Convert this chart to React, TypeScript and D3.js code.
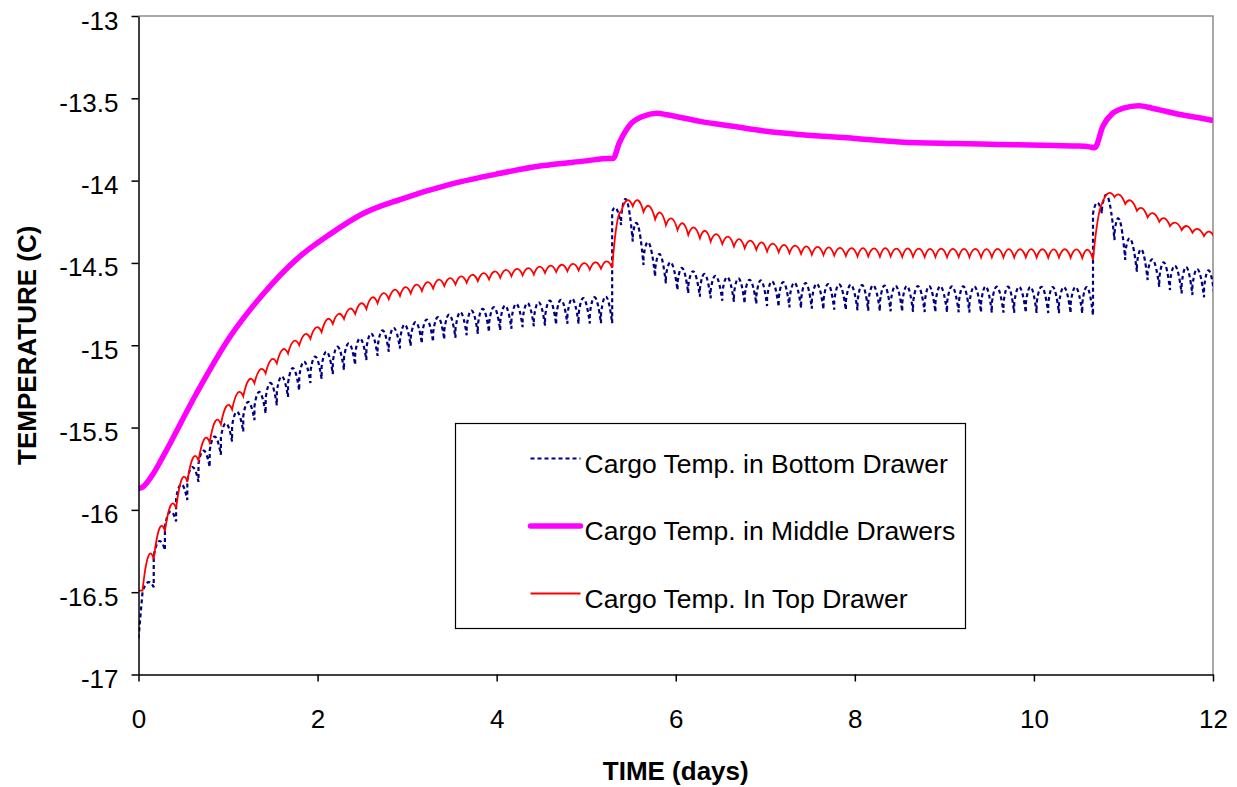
import React, { useEffect, useRef } from 'react';
import * as d3 from 'd3';

// refrigeration cycle boundaries (days)
const cycleEdges = [
  0.045, 0.17, 0.295, 0.42, 0.545, 0.67, 0.795, 0.92, 1.045, 1.17, 1.295, 1.42, 1.545, 1.67, 1.795,
  1.92, 2.045, 2.17, 2.295, 2.42, 2.545, 2.67, 2.795, 2.92, 3.04, 3.165, 3.29, 3.415, 3.54, 3.665,
  3.79, 3.915, 4.04, 4.165, 4.29, 4.415, 4.54, 4.665, 4.79, 4.915, 5.04, 5.165, 5.29,
  5.39,
  5.52, 5.64, 5.77, 5.89, 6.02, 6.14, 6.27, 6.39, 6.52, 6.65, 6.77, 6.9, 7.02, 7.15, 7.27, 7.4,
  7.52, 7.65, 7.77, 7.9, 8.03, 8.15, 8.28, 8.4, 8.53, 8.65, 8.78, 8.9, 9.03, 9.16, 9.28, 9.41,
  9.53, 9.66, 9.78, 9.91, 10.03, 10.16, 10.28, 10.41, 10.54, 10.66,
  10.76,
  10.9, 11.02, 11.15, 11.27, 11.4, 11.52, 11.65, 11.77, 11.9, 12.02,
];

// top drawer: value at each cycle boundary and arch top of each cycle
const topStart = -16.49;
const topCusp = [
  -16.49, -16.3, -16.13, -15.99, -15.83, -15.7, -15.59, -15.48, -15.39, -15.31, -15.23, -15.17,
  -15.11, -15.05, -15.0, -14.96, -14.92, -14.87, -14.84, -14.81, -14.78, -14.745, -14.72, -14.7,
  -14.685, -14.67, -14.655, -14.64, -14.63, -14.62, -14.61, -14.6, -14.59, -14.58, -14.575, -14.57,
  -14.56, -14.555, -14.55, -14.545, -14.54, -14.535, -14.53,
  -14.19,
  -14.155, -14.19, -14.235, -14.27, -14.3, -14.33, -14.35, -14.37, -14.385, -14.4, -14.41, -14.42,
  -14.43, -14.435, -14.44, -14.445, -14.45, -14.452, -14.455, -14.457,
  -14.46, -14.46, -14.462, -14.46, -14.463, -14.462, -14.464, -14.463, -14.465, -14.464, -14.465,
  -14.466, -14.465, -14.466, -14.467, -14.466, -14.467, -14.468, -14.467, -14.468, -14.47,
  -14.48,
  -14.14,
  -14.1, -14.142, -14.183, -14.223, -14.25, -14.276, -14.3, -14.316, -14.337, -14.35,
];
const topPeak = [
  -16.285, -16.115, -15.975, -15.815, -15.685, -15.572, -15.462, -15.37, -15.29, -15.21, -15.148,
  -15.087, -15.027, -14.975, -14.933, -14.892, -14.842, -14.81, -14.778, -14.746, -14.71, -14.684,
  -14.663, -14.647, -14.632, -14.617, -14.602, -14.592, -14.582, -14.572, -14.562, -14.552, -14.542,
  -14.536, -14.531, -14.522, -14.516, -14.511, -14.506, -14.501, -14.496, -14.49,
  -14.27,
  -14.12, -14.12, -14.155, -14.195, -14.23, -14.26, -14.285, -14.305, -14.325, -14.34, -14.355,
  -14.365, -14.375, -14.383, -14.39, -14.395, -14.4, -14.403, -14.406, -14.408,
  -14.41, -14.41, -14.412, -14.41, -14.413, -14.412, -14.413, -14.414, -14.413, -14.415, -14.414,
  -14.415, -14.416, -14.415, -14.416, -14.417, -14.416, -14.417, -14.418, -14.417, -14.418, -14.42,
  -14.25,
  -14.077, -14.087, -14.122, -14.168, -14.199, -14.229, -14.256, -14.276, -14.294, -14.31,
];

// bottom drawer: level after the jump, arch top, and low point before the next jump
const bottomStart = -16.78;
const bottomFoot = [
  -16.5, -16.28, -16.1, -15.93, -15.82, -15.72, -15.64, -15.56, -15.49, -15.43, -15.37, -15.32,
  -15.28, -15.23, -15.19, -15.16, -15.13, -15.1, -15.075, -15.05, -15.02,
  -15.01, -14.99, -14.97, -14.955, -14.94, -14.925, -14.91, -14.9, -14.885, -14.875, -14.865,
  -14.855, -14.845, -14.84, -14.835, -14.825, -14.82, -14.815, -14.81, -14.81, -14.81,
  -14.19,
  -14.22,
  -14.334, -14.465, -14.536, -14.579, -14.617, -14.637, -14.656, -14.666, -14.679, -14.686, -14.695,
  -14.699, -14.709, -14.713, -14.717, -14.72, -14.724, -14.727, -14.729, -14.731, -14.733, -14.735,
  -14.737,
  -14.738, -14.739, -14.74, -14.74, -14.741, -14.741, -14.742, -14.742, -14.743, -14.743, -14.744,
  -14.744, -14.745, -14.745, -14.746, -14.746, -14.747, -14.747,
  -14.2,
  -14.17,
  -14.317, -14.437, -14.506, -14.56, -14.592, -14.612, -14.628, -14.639, -14.651,
];
const bottomPeak = [
  -16.44, -16.19, -16.01, -15.845, -15.74, -15.64, -15.555, -15.475, -15.405, -15.345, -15.285,
  -15.23, -15.19, -15.14, -15.1, -15.07, -15.04, -15.01, -14.99, -14.96, -14.93,
  -14.91, -14.895, -14.875, -14.86, -14.845, -14.83, -14.815, -14.8, -14.79, -14.78, -14.77, -14.76,
  -14.75, -14.745, -14.74, -14.73, -14.725, -14.72, -14.715, -14.71, -14.705,
  -14.17,
  -14.12,
  -14.27, -14.38, -14.45, -14.5, -14.533, -14.553, -14.569, -14.58, -14.588, -14.596, -14.604,
  -14.608, -14.614, -14.618, -14.622, -14.624, -14.628, -14.63, -14.632, -14.634, -14.636, -14.638,
  -14.64,
  -14.641, -14.642, -14.642, -14.643, -14.643, -14.644, -14.644, -14.645, -14.645, -14.646, -14.646,
  -14.647, -14.647, -14.647, -14.648, -14.648, -14.648, -14.649,
  -14.134,
  -14.1,
  -14.239, -14.357, -14.422, -14.482, -14.499, -14.519, -14.527, -14.539, -14.547,
];
const bottomTrough = [
  -16.47, -16.245, -16.07, -15.94, -15.83, -15.74, -15.665, -15.585, -15.525, -15.455, -15.415,
  -15.365, -15.315, -15.275, -15.23, -15.205, -15.175, -15.15, -15.12, -15.09, -15.065,
  -15.04, -15.02, -15.005, -14.99, -14.98, -14.965, -14.955, -14.94, -14.93, -14.92, -14.91, -14.9,
  -14.89, -14.885, -14.88, -14.875, -14.87, -14.87, -14.868, -14.867, -14.867,
  -14.27,
  -14.37,
  -14.513, -14.584, -14.624, -14.665, -14.685, -14.705, -14.715, -14.73, -14.736, -14.746, -14.75,
  -14.762, -14.766, -14.77, -14.774, -14.778, -14.782, -14.784, -14.786, -14.788, -14.79, -14.792,
  -14.794,
  -14.796, -14.797, -14.798, -14.799, -14.8, -14.8, -14.801, -14.801, -14.802, -14.802, -14.803,
  -14.803, -14.804, -14.804, -14.805, -14.805, -14.806,
  -14.817,
  -14.2,
  -14.361,
  -14.482, -14.553, -14.604, -14.645, -14.665, -14.685, -14.695, -14.709, -14.715,
];

// middle drawers (smooth)
const middleTime = [
  0, 0.05, 0.165, 0.27, 0.65, 1.02, 1.39, 1.77, 2.14, 2.51, 2.92, 3.5, 4.0, 4.5, 5.0, 5.25, 5.3,
  5.37, 5.49, 5.63, 5.79, 5.9, 6.27, 6.64, 7.01, 7.38, 7.91, 8.5, 9.1, 9.6, 10.1, 10.5, 10.62, 10.68,
  10.77, 10.88, 11.0, 11.17, 11.32, 11.48, 11.65, 11.96, 12,
];
const middleTemp = [
  -15.87, -15.86, -15.78, -15.68, -15.29, -14.95, -14.69, -14.475, -14.325, -14.2, -14.115, -14.02,
  -13.96, -13.91, -13.88, -13.865, -13.865, -13.77, -13.66, -13.61, -13.59, -13.6, -13.64, -13.67,
  -13.7, -13.72, -13.74, -13.765, -13.775, -13.78, -13.785, -13.79, -13.795, -13.8, -13.67, -13.59,
  -13.56, -13.545, -13.56, -13.58, -13.6, -13.63, -13.635,
];

const xTicks = [0, 2, 4, 6, 8, 10, 12];
const yTicks = [-17, -16.5, -16, -15.5, -15, -14.5, -14, -13.5, -13];
const legendLabels = [
  'Cargo Temp. in Bottom Drawer',
  'Cargo Temp. in Middle Drawers',
  'Cargo Temp. In Top Drawer',
];

const FONT = '"Liberation Sans", Arial, Helvetica, sans-serif';
const NAVY = '#000080';
const MAGENTA = '#ff00ff';
const RED = '#ff0000';

export default function App() {
  const svgRef = useRef<SVGSVGElement>(null);

  useEffect(() => {
    const svg = d3.select(svgRef.current);
    svg.selectAll('*').remove();

    const x = d3.scaleLinear().domain([0, 12]).range([138.5, 1213]);
    const y = d3.scaleLinear().domain([-17, -13]).range([674.5, 16]);

    svg.append('defs').append('clipPath').attr('id', 'plot-clip')
      .append('rect')
      .attr('x', x(0)).attr('y', 0)
      .attr('width', x(12) - x(0)).attr('height', y(-17));

    // grey frame on top and right
    svg.append('path')
      .attr('d', `M${x(0)},${y(-13)}H${x(12)}V${y(-17)}`)
      .attr('fill', 'none')
      .attr('stroke', '#8c8c8c')
      .attr('stroke-width', 1.5);

    const plot = svg.append('g').attr('clip-path', 'url(#plot-clip)');

    // bottom drawer: arch per cycle, then a vertical jump
    const bottom = d3.path();
    bottom.moveTo(x(0), y(bottomStart));
    bottomPeak.forEach((pk, i) => {
      const t0 = cycleEdges[i];
      const t1 = cycleEdges[i + 1];
      const f = bottomFoot[i];
      const tr = bottomTrough[i];
      bottom.lineTo(x(t0), y(f));
      bottom.quadraticCurveTo(x(t0 + (t1 - t0) * 0.45), y(2 * pk - (f + tr) / 2), x(t1), y(tr));
    });
    plot.append('path')
      .attr('d', bottom.toString())
      .attr('fill', 'none')
      .attr('stroke', NAVY)
      .attr('stroke-width', 2.2)
      .attr('stroke-dasharray', '4 3');

    // middle drawers
    const middleLine = d3.line<number>()
      .x((_, i) => x(middleTime[i]))
      .y(d => y(d))
      .curve(d3.curveMonotoneX);
    plot.append('path')
      .attr('d', middleLine(middleTemp))
      .attr('fill', 'none')
      .attr('stroke', MAGENTA)
      .attr('stroke-width', 5.5)
      .attr('stroke-linejoin', 'round');

    // top drawer: scallops between cusps
    const top = d3.path();
    top.moveTo(x(0), y(topStart));
    top.lineTo(x(cycleEdges[0]), y(topCusp[0]));
    topPeak.forEach((pk, i) => {
      const t0 = cycleEdges[i];
      const t1 = cycleEdges[i + 1];
      const c0 = topCusp[i];
      const c1 = topCusp[i + 1];
      top.quadraticCurveTo(x((t0 + t1) / 2), y(2 * pk - (c0 + c1) / 2), x(t1), y(c1));
    });
    plot.append('path')
      .attr('d', top.toString())
      .attr('fill', 'none')
      .attr('stroke', RED)
      .attr('stroke-width', 1.8);

    // axes
    const yAxis = d3.axisLeft(y)
      .tickValues(yTicks)
      .tickSize(7)
      .tickSizeOuter(0)
      .tickPadding(13)
      .tickFormat(d => String(d));
    const yg = svg.append('g')
      .attr('transform', `translate(${x(0)},0)`)
      .call(yAxis);
    yg.attr('font-family', FONT).attr('font-size', 26);
    yg.selectAll('text').attr('dy', '0.5em').attr('fill', '#000');
    yg.selectAll('line, path').attr('stroke', '#000').attr('stroke-width', 1.5);

    const xAxis = d3.axisBottom(x)
      .tickValues(xTicks)
      .tickSize(7)
      .tickSizeOuter(0)
      .tickPadding(28)
      .tickFormat(d => String(d));
    const xg = svg.append('g')
      .attr('transform', `translate(0,${y(-17)})`)
      .call(xAxis);
    xg.attr('font-family', FONT).attr('font-size', 26);
    xg.selectAll('text').attr('fill', '#000');
    xg.selectAll('line, path').attr('stroke', '#000').attr('stroke-width', 1.5);

    // axis titles
    svg.append('text')
      .attr('x', (x(0) + x(12)) / 2)
      .attr('y', 780)
      .attr('text-anchor', 'middle')
      .attr('font-family', FONT)
      .attr('font-weight', 'bold')
      .attr('font-size', 26)
      .text('TIME (days)');

    svg.append('text')
      .attr('transform', `translate(36,${(y(-13) + y(-17)) / 2}) rotate(-90)`)
      .attr('text-anchor', 'middle')
      .attr('font-family', FONT)
      .attr('font-weight', 'bold')
      .attr('font-size', 26)
      .text('TEMPERATURE (C)');

    // legend
    const legend = svg.append('g').attr('transform', 'translate(455.5,423.5)');
    legend.append('rect')
      .attr('width', 510)
      .attr('height', 205)
      .attr('fill', '#fff')
      .attr('stroke', '#000')
      .attr('stroke-width', 1.2);

    const styles = [
      { color: NAVY, width: 2.2, dash: '4 3' },
      { color: MAGENTA, width: 5.5, dash: null },
      { color: RED, width: 1.8, dash: null },
    ];
    legendLabels.forEach((label, i) => {
      const row = legend.append('g').attr('transform', `translate(0,${35 + i * 67.5})`);
      row.append('line')
        .attr('x1', 75).attr('x2', 125)
        .attr('stroke', styles[i].color)
        .attr('stroke-width', styles[i].width)
        .attr('stroke-linecap', i === 1 ? 'round' : 'butt')
        .attr('stroke-dasharray', styles[i].dash);
      row.append('text')
        .attr('x', 129)
        .attr('y', 14)
        .attr('font-family', FONT)
        .attr('font-size', 26.5)
        .text(label);
    });
  }, []);

  return (
    <div>
      <style>{'body { margin: 0; }'}</style>
      <svg ref={svgRef} width={1237} height={787} style={{ display: 'block', background: '#fff' }} />
    </div>
  );
}
